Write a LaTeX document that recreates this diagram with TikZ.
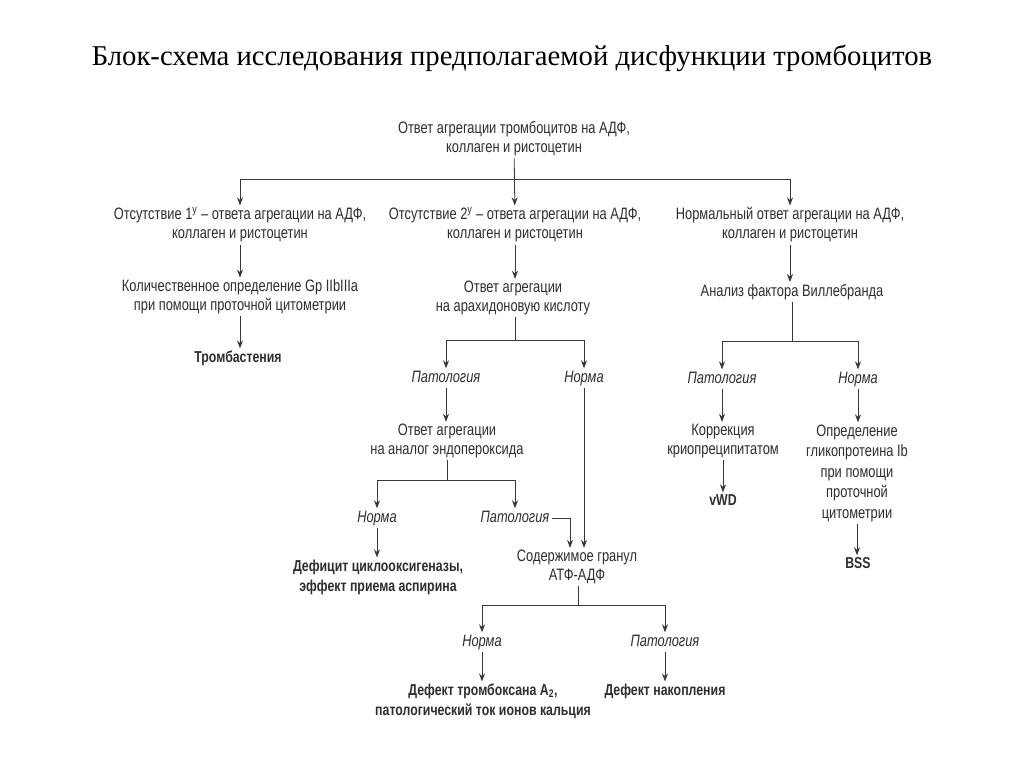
\documentclass[tikz,border=0pt]{standalone}
\usepackage{fontspec}
\setmainfont{Liberation Sans}[FakeStretch=0.78]
\newfontfamily\titlefont{Liberation Serif}
\usetikzlibrary{arrows.meta}
\tikzstyle{txt}=[align=center, inner sep=2pt, text=black!82, font=\fontsize{16.5}{19}\selectfont]
\tikzstyle{res}=[txt, font=\fontsize{15.8}{20}\selectfont\bfseries]
\tikzstyle{branch}=[txt, text height=12pt, text depth=3pt, font=\fontsize{16.5}{19}\selectfont\itshape]
\tikzstyle{link}=[draw=black!78, line width=0.8pt]
\tikzstyle{go}=[link, -{Stealth[length=8pt,width=6pt]}]

\begin{document}
\begin{tikzpicture}[x=1pt, y=-1pt]
  \fill[white] (0,0) rectangle (1024,767);
  \useasboundingbox (0,0) rectangle (1024,767);
  \node (title) at (512,58) {\titlefont\fontsize{28.7}{32}\selectfont Блок-схема исследования предполагаемой дисфункции тромбоцитов};

  % top level
  \node[txt] (top) at (514,139) {Ответ агрегации тромбоцитов на АДФ,\\коллаген и ристоцетин};
  \node[txt] (a1) at (240,225) {Отсутствие 1\textsuperscript{у} – ответа агрегации на АДФ,\\коллаген и ристоцетин};
  \node[txt] (b1) at (515,225) {Отсутствие 2\textsuperscript{у} – ответа агрегации на АДФ,\\коллаген и ристоцетин};
  \node[txt] (c1) at (790,225) {Нормальный ответ агрегации на АДФ,\\коллаген и ристоцетин};
  \coordinate (j0) at (514,179);
  \draw[go] (top) -- (b1);
  \draw[go] (j0) -| (a1);
  \draw[go] (j0) -| (c1);

  % left column
  \node[txt] (a2) at (240,297) {Количественное определение Gp IIbIIIa\\при помощи проточной цитометрии};
  \node[res] (a3) at (238,358) {Тромбастения};
  \draw[go] (a1) -- (a2);
  \draw[go] (a2) -- (a2 |- a3.north);

  % middle column
  \node[txt] (b2) at (513,298) {Ответ агрегации\\на арахидоновую кислоту};
  \node[branch] (b3) at (446,378) {Патология};
  \node[branch] (b4) at (584,378) {Норма};
  \node[txt] (b5) at (447,441) {Ответ агрегации\\на аналог эндопероксида};
  \node[branch] (b6) at (377,518) {Норма};
  \node[branch] (b7) at (515,518) {Патология};
  \node[res] (b8) at (378,577) {Дефицит циклооксигеназы,\\эффект приема аспирина};
  \node[txt] (b9) at (577,567) {Содержимое гранул\\АТФ-АДФ};
  \node[branch] (b10) at (482,642) {Норма};
  \node[branch] (b11) at (665,642) {Патология};
  \node[res] (b12) at (483,701) {Дефект тромбоксана A\textsubscript{2},\\патологический ток ионов кальция};
  \node[res] (b13) at (665,691) {Дефект накопления};
  \coordinate (j1) at (515,340);
  \coordinate (j2) at (447,480);
  \coordinate (j3) at (578,605);
  \draw[go] (b1) -- (b1 |- b2.north);
  \draw[link] (b2.south -| j1) -- (j1);
  \draw[go] (j1) -| (b3);
  \draw[go] (j1) -| (b4);
  \draw[go] (b3) -- (b3 |- b5.north);
  \draw[link] (b5.south -| j2) -- (j2);
  \draw[go] (j2) -| (b6);
  \draw[go] (j2) -| (b7);
  \draw[go] (b6) -- (b6 |- b8.north);
  \draw[go] (b7.east) -| ([xshift=-7pt]b9.north);
  \draw[go] (b4.south) -- (b4.south |- b9.north);
  \draw[link] (b9.south -| j3) -- (j3);
  \draw[go] (j3) -| (b10);
  \draw[go] (j3) -| (b11);
  \draw[go] (b10) -- (b10 |- b12.north);
  \draw[go] (b11) -- (b11 |- b13.north);

  % right column
  \node[txt] (c2) at (792,292) {Анализ фактора Виллебранда};
  \node[branch] (c3) at (722,379) {Патология};
  \node[branch] (c4) at (858,379) {Норма};
  \node[txt] (c5) at (723,441) {Коррекция\\криопреципитатом};
  \node[res] (c6) at (723,500) {vWD};
  \node[txt, font=\fontsize{16.5}{20.5}\selectfont] (c7) at (857,473) {Определение\\гликопротеина Ib\\при помощи\\проточной\\цитометрии};
  \node[res] (c8) at (858,563) {BSS};
  \coordinate (j4) at (792,341);
  \draw[go] (c1) -- (c1 |- c2.north);
  \draw[link] (c2.south -| j4) -- (j4);
  \draw[go] (j4) -| (c3);
  \draw[go] (j4) -| (c4);
  \draw[go] (c3) -- (c3 |- c5.north);
  \draw[go] (c5) -- (c5 |- c6.north);
  \draw[go] (c4) -- (c4 |- c7.north);
  \draw[go] (c7) -- (c7 |- c8.north);
\end{tikzpicture}
\end{document}
